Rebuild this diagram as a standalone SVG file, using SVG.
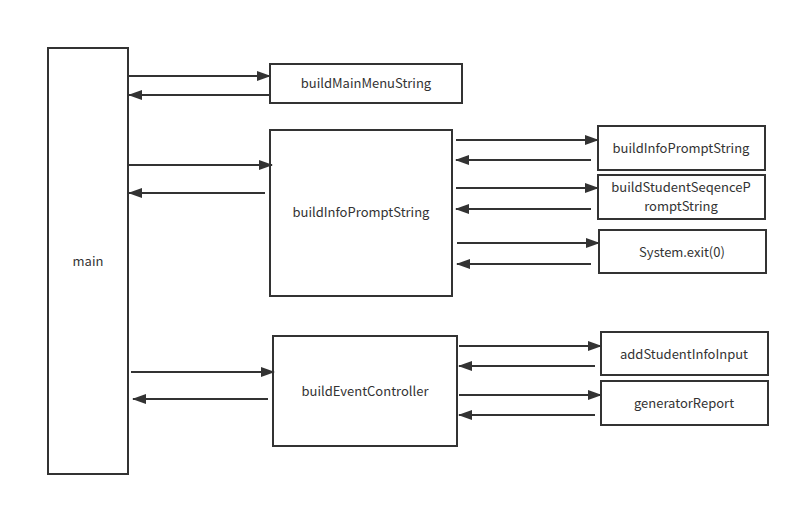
<svg xmlns="http://www.w3.org/2000/svg" width="800" height="506" viewBox="0 0 800 506">
<style>
.box{fill:#fff;stroke:#333;stroke-width:2}
.t{font-family:"Noto Sans CJK SC","Noto Sans","Liberation Sans",sans-serif;font-size:13px;fill:#333;text-anchor:middle}
.c{stroke:#333;stroke-width:2;fill:none;marker-end:url(#ah)}
</style>
<defs>
<marker id="ah" viewBox="0 0 14 10" refX="13" refY="5" markerWidth="14" markerHeight="10" markerUnits="userSpaceOnUse" orient="auto">
<path d="M0,0 L14,5 L0,10 Z" fill="#333"/>
</marker>
</defs>
<rect width="800" height="506" fill="#fff"/>
<g id="main"><rect class="box" x="48" y="48" width="80" height="426"/><text class="t" x="88" y="266">main</text></g>
<g id="buildMainMenuString"><rect class="box" x="270" y="64" width="192" height="39"/><text class="t" x="366" y="88">buildMainMenuString</text></g>
<g id="buildInfoPromptStringMain"><rect class="box" x="270" y="130" width="182" height="166"/><text class="t" x="361" y="217">buildInfoPromptString</text></g>
<g id="buildInfoPromptString"><rect class="box" x="598" y="126" width="167" height="44"/><text class="t" x="681" y="153">buildInfoPromptString</text></g>
<g id="buildStudentSeqencePromptString"><rect class="box" x="598" y="175" width="167" height="44"/><text class="t" x="681" y="191.5">buildStudentSeqenceP</text><text class="t" x="681" y="210.5">romptString</text></g>
<g id="systemExit"><rect class="box" x="599" y="230" width="167" height="43"/><text class="t" x="682" y="257">System.exit(0)</text></g>
<g id="buildEventController"><rect class="box" x="273" y="336" width="184" height="110"/><text class="t" x="365" y="396">buildEventController</text></g>
<g id="addStudentInfoInput"><rect class="box" x="601" y="332" width="167" height="43"/><text class="t" x="684" y="359">addStudentInfoInput</text></g>
<g id="generatorReport"><rect class="box" x="601" y="381" width="167" height="44"/><text class="t" x="684" y="408">generatorReport</text></g>
<g id="connectors">
<line class="c" x1="129" y1="76" x2="270" y2="76"/>
<line class="c" x1="270" y1="95" x2="129" y2="95"/>
<line class="c" x1="129" y1="165" x2="272" y2="165"/>
<line class="c" x1="265" y1="193" x2="129" y2="193"/>
<line class="c" x1="456" y1="140" x2="598" y2="140"/>
<line class="c" x1="591" y1="160" x2="456" y2="160"/>
<line class="c" x1="456" y1="188" x2="598" y2="188"/>
<line class="c" x1="591" y1="209" x2="456" y2="209"/>
<line class="c" x1="457" y1="243" x2="599" y2="243"/>
<line class="c" x1="591" y1="264" x2="457" y2="264"/>
<line class="c" x1="131" y1="372" x2="274" y2="372"/>
<line class="c" x1="268" y1="399" x2="133" y2="399"/>
<line class="c" x1="459" y1="346" x2="601" y2="346"/>
<line class="c" x1="595" y1="366" x2="459" y2="366"/>
<line class="c" x1="459" y1="395" x2="601" y2="395"/>
<line class="c" x1="595" y1="415" x2="459" y2="415"/>
</g>
</svg>
